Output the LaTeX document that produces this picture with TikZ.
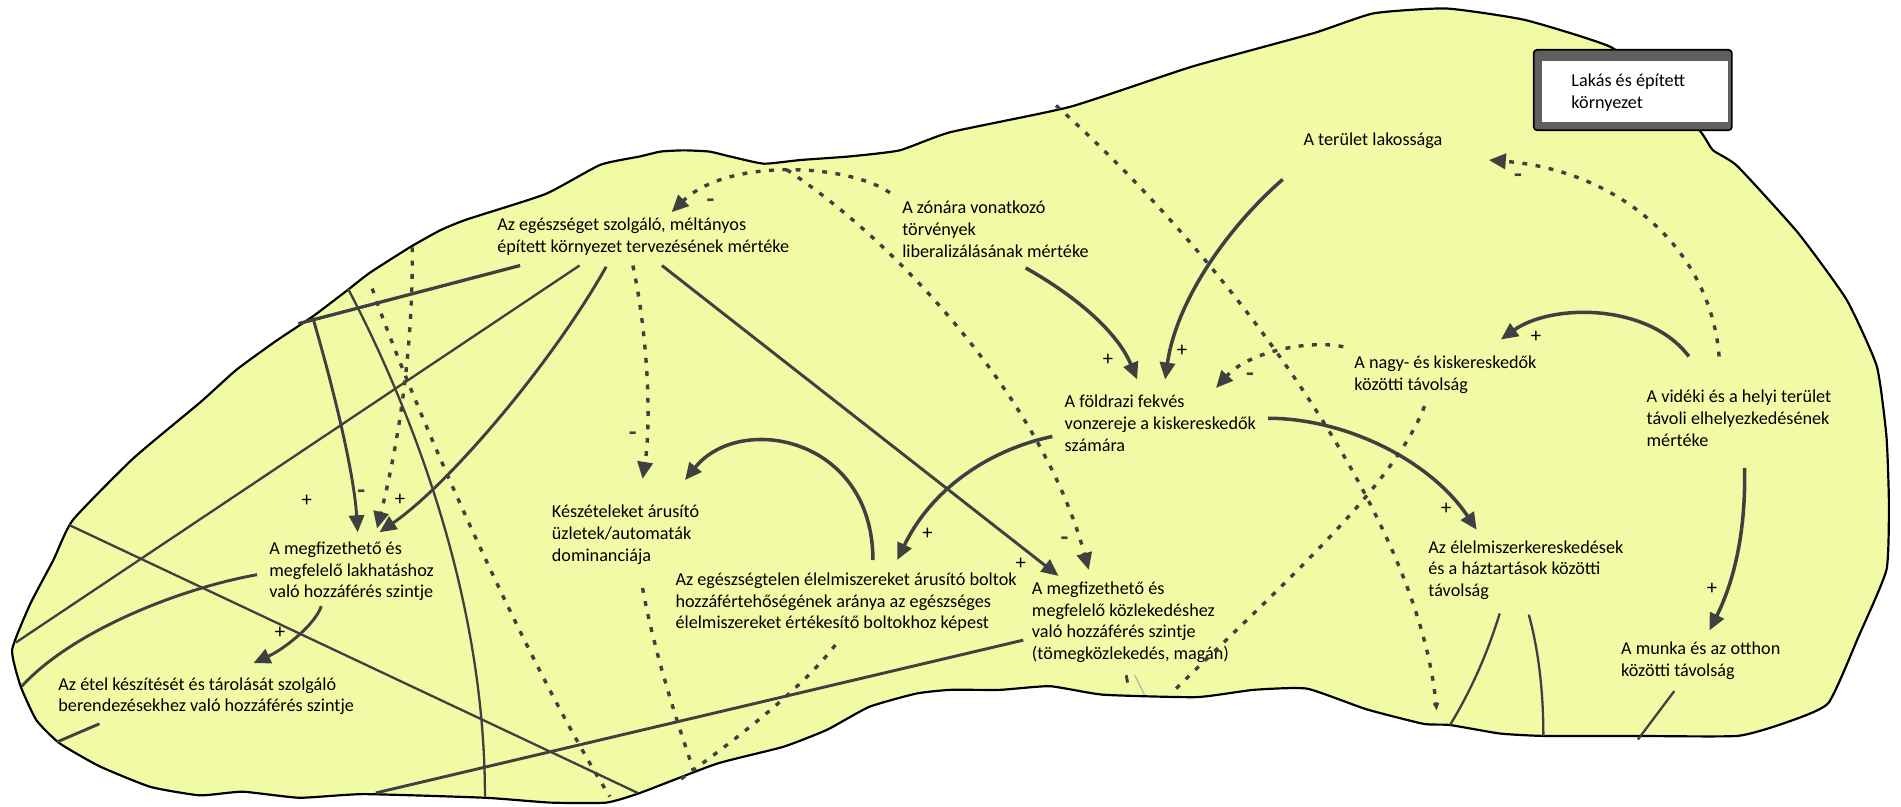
\documentclass[tikz,border=0pt]{standalone}
\usepackage{fontspec}
\setmainfont{Carlito}
\usetikzlibrary{arrows.meta}
\definecolor{blobfill}{RGB}{241,251,166}
\definecolor{ink}{RGB}{64,64,64}
\definecolor{boxgray}{RGB}{95,95,95}
\begin{document}
\begin{tikzpicture}[x=1pt,y=-1pt,
 txt/.style={anchor=north west,inner sep=0pt,align=left,font=\fontsize{15}{18}\selectfont,text=black},
 sgn/.style={inner sep=0pt,font=\fontsize{17}{18}\selectfont,text=black},
 msgn/.style={inner sep=0pt,font=\fontsize{21}{18}\selectfont\bfseries,text=ink},
 link/.style={draw=ink,line width=1.9pt},
 arr/.style={draw=ink,line width=2.9pt,-{Triangle[length=14pt,width=12.5pt]}},
 darr/.style={draw=ink,line width=2.8pt,dash pattern=on 4pt off 7pt,-{Triangle[length=14pt,width=12.5pt]}},
 dlink/.style={draw=ink,line width=2.8pt,dash pattern=on 4pt off 7pt},
]
\useasboundingbox (0,0) rectangle (1568,665);
% blob
\draw[fill=blobfill,draw=black,line width=1.8pt,line join=round]
 plot[smooth cycle,tension=0.3] coordinates {
 (10,536) (25,498) (44,462) (60,429) (110,378) (165,332) (195,305) (228,281) (258,261) (287,239) (305,225) (338,204) (363,190) (385,181) (450,160) (495,136) (528,129) (545,125) (564,124) (585,125) (602,129) (630,135) (660,132) (701,129) (742,124) (784,109) (883,88) (983,55) (1083,27.5) (1133,11) (1193,7) (1258,16.5) (1328,38.5) (1370,70) (1403,109) (1413,124) (1433,137) (1483,192) (1523,247) (1548,302) (1556,360) (1558,415) (1556,470) (1533,525) (1508,580) (1473,596) (1433,607) (1348,607) (1273,607) (1237,605) (1196,598) (1174,597) (1127,585) (1078,568) (1034,569) (987,575) (910,573) (866,566) (825,569) (784,569) (756,572) (717,583) (682,602) (646,616) (591,630) (528,654) (500,662) (454,662) (400,658) (300,655) (247,658) (200,653) (165,656) (124,649) (82,632) (49,613) (30,594) (17,566)};
% title box
\draw[fill=boxgray,draw=black,line width=1.4pt,rounded corners=3pt] (1265,41) rectangle (1428.5,107.5);
\fill[white] (1271.5,50.5) rectangle (1425.5,101);

% text nodes
\node[txt] (n1) at (410,177.4) {\strut Az egészséget szolgáló, méltányos\\épített környezet tervezésének mértéke};
\node[txt] (n2) at (744,163.4) {\strut A zónára vonatkozó\\törvények\\liberalizálásának mértéke};
\node[txt] (n3) at (1075,107.4) {\strut A terület lakossága};
\node[txt] (n4) at (1296,58.4) {\strut Lakás és épített\\környezet};
\node[txt] (n5) at (1117,291.4) {\strut A nagy- és kiskereskedők\\közötti távolság};
\node[txt] (n6) at (1358,319.4) {\strut A vidéki és a helyi terület\\távoli elhelyezkedésének\\mértéke};
\node[txt] (n7) at (878,323.4) {\strut A földrazi fekvés\\vonzereje a kiskereskedők\\számára};
\node[txt] (n8) at (455,414.2) {\strut Készételeket árusító\\üzletek/automaták\\dominanciája};
\node[txt] (n9) at (222,444.4) {\strut A megfizethető és\\megfelelő lakhatáshoz\\való hozzáférés szintje};
\node[txt] (n10) at (48,556.4) {\strut Az étel készítését és tárolását szolgáló\\berendezésekhez való hozzáférés szintje};
\node[txt] (n11) at (557,469.9) {\strut Az egészségtelen élelmiszereket árusító boltok\\hozzáfértehőségének aránya az egészséges\\élelmiszereket értékesítő boltokhoz képest};
\node[txt] (n12) at (851,477.4) {\strut A megfizethető és\\megfelelő közlekedéshez\\való hozzáférés szintje\\(tömegközlekedés, magán)};
\node[txt] (n13) at (1178,443.4) {\strut Az élelmiszerkereskedések\\és a háztartások közötti\\távolság};
\node[txt] (n14) at (1337,526.9) {\strut A munka és az otthon\\közötti távolság};

% endpoint coordinates
\coordinate (a1s) at (1058,148); \coordinate (a1e) at (961,313);
\coordinate (a2s) at (846,221); \coordinate (a2e) at (938,313);
\coordinate (a3s) at (1393,294); \coordinate (a3e) at (1238,280);
\coordinate (a4s) at (1439,386); \coordinate (a4e) at (1410,520);
\coordinate (a5s) at (1046,345); \coordinate (a5e) at (1218,437);
\coordinate (a6s) at (868,360); \coordinate (a6e) at (740,462);
\coordinate (a7s) at (720,462); \coordinate (a7e) at (565,396);
\coordinate (a8s) at (546,219); \coordinate (a8e) at (873,475);
\coordinate (a9s) at (500,220); \coordinate (a9e) at (313,439);
\coordinate (a10s) at (258,262); \coordinate (a10e) at (295,439);
\coordinate (a11s) at (265,500); \coordinate (a11e) at (209,547);

% solid arrows
\draw[arr] (a1s) .. controls (1010,190) and (970,250) .. (a1e);
\draw[arr] (a2s) .. controls (880,240) and (920,270) .. (a2e);
\draw[arr] (a3s) .. controls (1360,250) and (1280,250) .. (a3e);
\draw[arr] (a4s) .. controls (1440,440) and (1430,480) .. (a4e);
\draw[arr] (a5s) .. controls (1110,345) and (1180,380) .. (a5e);
\draw[arr] (a6s) .. controls (820,370) and (770,400) .. (a6e);
\draw[arr] (a7s) .. controls (720,360) and (610,340) .. (a7e);
\draw[arr,line width=2.4pt] (a8s) -- (a8e);
\draw[arr,line width=2.4pt] (a9s) .. controls (455,300) and (370,400) .. (a9e);
\draw[arr,line width=2.4pt] (a10s) .. controls (275,320) and (292,390) .. (a10e);
\draw[arr,line width=2.4pt] (a11s) .. controls (260,515) and (235,535) .. (a11e);

% dotted arrows
\coordinate (d12s) at (734,159); \coordinate (d12e) at (554,175);
\coordinate (d13s) at (1418,294); \coordinate (d13e) at (1228,132);
\coordinate (d14s) at (1108,286); \coordinate (d14e) at (1003,320);
\coordinate (d15s) at (522,219); \coordinate (d15e) at (530,395);
\coordinate (d16s) at (649,140); \coordinate (d16e) at (898,470);
\coordinate (d17s) at (340,204); \coordinate (d17e) at (311,436);
\coordinate (d19s) at (871,87); \coordinate (d19e) at (1185,586);
\coordinate (d20s) at (1175,335); \coordinate (d20e) at (969,569);
\coordinate (d21s) at (689,532); \coordinate (d21e) at (561,643);
\coordinate (d22s) at (530,485); \coordinate (d22e) at (572,635);
\coordinate (d32s) at (307,238); \coordinate (d32e) at (503,657);
\draw[darr] (d12s) .. controls (700,135) and (600,130) .. (d12e);
\draw[darr] (d13s) .. controls (1410,200) and (1330,140) .. (d13e);
\draw[darr] (d14s) .. controls (1080,280) and (1030,290) .. (d14e);
\draw[darr] (d15s) .. controls (535,280) and (537,350) .. (d15e);
\draw[darr] (d16s) .. controls (740,200) and (860,330) .. (d16e);
\draw[darr] (d17s) .. controls (341,300) and (325,380) .. (d17e);
\draw[dlink,-{Triangle[length=6pt,width=5pt]}] (d19s) .. controls (1020,220) and (1170,430) .. (d19e);
\draw[dlink] (d20s) .. controls (1150,400) and (1060,480) .. (d20e);
\draw[dlink] (d21s) .. controls (660,570) and (600,615) .. (d21e);
\draw[dlink] (d22s) .. controls (540,540) and (560,600) .. (d22e);
\draw[dlink] (d32s) .. controls (335,320) and (430,540) .. (d32e);

% plain links
\coordinate (l24s) at (246,267); \coordinate (l24e) at (429,219);
\coordinate (l25s) at (478,219); \coordinate (l25e) at (13,530);
\coordinate (l27s) at (57,433); \coordinate (l27e) at (526,654);
\coordinate (l28s) at (212,474); \coordinate (l28e) at (18,566);
\coordinate (l29s) at (82,597); \coordinate (l29e) at (47,612);
\coordinate (l30s) at (844,528); \coordinate (l30e) at (310,654);
\coordinate (l31s) at (287,238); \coordinate (l31e) at (400,657);
\coordinate (l33s) at (1237,506); \coordinate (l33e) at (1196,598);
\coordinate (l35s) at (1261,507); \coordinate (l35e) at (1273,607);
\coordinate (l34s) at (1381,570); \coordinate (l34e) at (1351,610);
\draw[link,line width=2.7pt] (l24s) -- (l24e);
\draw[link] (l25s) -- (l25e);
\draw[link] (l27s) -- (l27e);
\draw[link,line width=2.4pt] (l28s) .. controls (150,485) and (60,520) .. (l28e);
\draw[link,line width=2.4pt] (l29s) -- (l29e);
\draw[link,line width=2.4pt] (l30s) -- (l30e);
\draw[link] (l31s) .. controls (330,320) and (400,480) .. (l31e);
\draw[link] (l33s) .. controls (1225,545) and (1210,575) .. (l33e);
\draw[link] (l35s) .. controls (1270,540) and (1273,575) .. (l35e);
\draw[link] (l34s) -- (l34e);
\coordinate (m1s) at (936,557); \coordinate (m1e) at (944,573);
\draw[gray!60,line width=1pt] (m1s) -- (m1e);
\coordinate (m2s) at (929,557); \coordinate (m2e) at (930,563);
\draw[ink,line width=2.4pt] (m2s) -- (m2e);

% polarity signs
\node[sgn] (p1) at (975,289) {+};
\node[sgn] (p2) at (914,297) {+};
\node[sgn] (p3) at (1267,278) {+};
\node[sgn] (p4) at (1412,486) {+};
\node[sgn] (p5) at (1193,420) {+};
\node[sgn] (p6) at (765,440) {+};
\node[sgn] (p7) at (842,465) {+};
\node[sgn] (p8) at (330,412) {+};
\node[sgn] (p9) at (253,413) {+};
\node[sgn] (p10) at (231,522) {+};
\node[msgn] (m1) at (586,168) {-};
\node[msgn] (m2) at (1252,147) {-};
\node[msgn] (m3) at (1031,311) {-};
\node[msgn] (m4) at (522,360) {-};
\node[msgn] (m5) at (878,446) {-};
\node[msgn] (m6) at (298,408) {-};
\end{tikzpicture}
\end{document}
